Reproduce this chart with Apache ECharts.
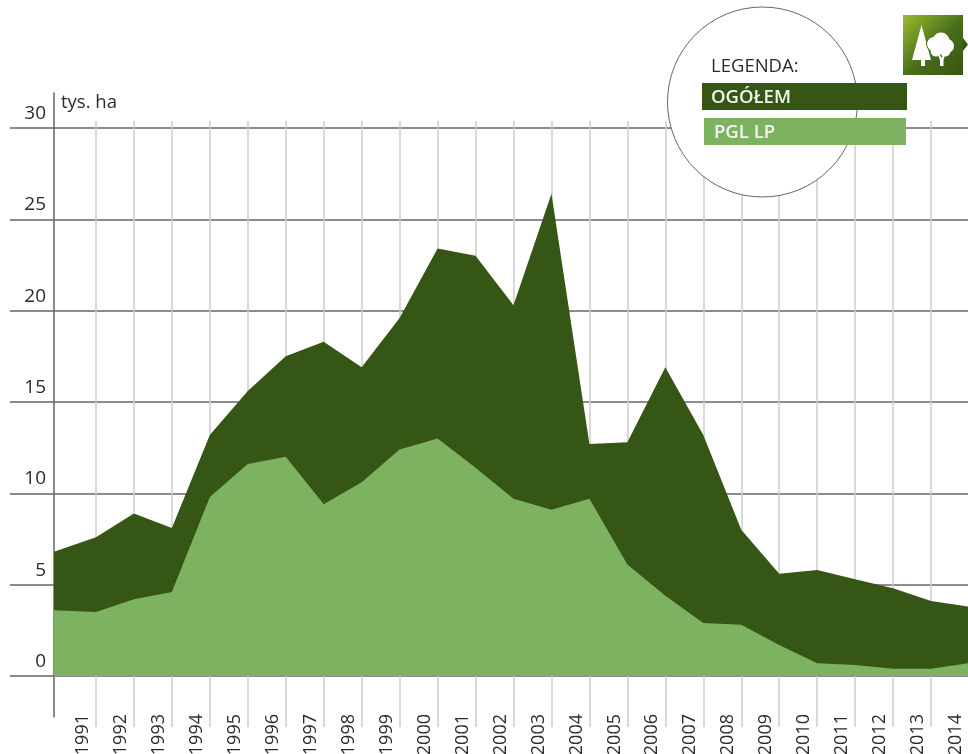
<!DOCTYPE html>
<html><head><meta charset="utf-8">
<style>html,body{margin:0;padding:0;background:#fff;overflow:hidden}#c{width:968px;height:754px}</style>
<script src="https://cdn.jsdelivr.net/npm/echarts@6/dist/echarts.min.js"></script>
</head><body><div id="c"></div>
<script>
const positions = [1989.895,1991,1992,1993,1994,1995,1996,1997,1998,1999,2000,2001,2002,2003,2004,2005,2006,2007,2008,2009,2010,2011,2012,2013,2014];
const ogolem = [6.8,7.6,8.9,8.1,13.2,15.6,17.5,18.3,16.9,19.6,23.4,23.0,20.3,26.4,12.7,12.8,16.9,13.2,8.0,5.6,5.8,5.3,4.8,4.1,3.8];
const pgl = [3.6,3.5,4.2,4.6,9.8,11.6,12.0,9.4,10.6,12.4,13.0,11.4,9.7,9.1,9.7,6.1,4.4,2.9,2.8,1.7,0.7,0.6,0.4,0.4,0.7];
const names = ['OGÓŁEM','PGL LP'];
const font = '"Open Sans"';
const zip = a => a.map((v,i)=>[positions[i],v]);
const chart = echarts.init(document.getElementById('c'),null,{renderer:'canvas'});
chart.setOption({
  animation:false,
  backgroundColor:'#fff',
  grid:[
    {left:54,top:128,width:915,height:548,outerBoundsMode:'none'},
    {left:58,top:121,width:911,height:606,outerBoundsMode:'none'},
    {left:54,top:93,width:915,height:624,outerBoundsMode:'none'}
  ],
  xAxis:[
    {type:'value',gridIndex:0,min:1989.895,max:2014,show:true,axisLine:{show:false},axisTick:{show:false},axisLabel:{show:false},splitLine:{show:false}},
    {type:'value',gridIndex:1,min:1990,max:2014,interval:1,
      axisLine:{show:false},axisTick:{show:false},
      splitLine:{show:true,showMinLine:false,showMaxLine:false,lineStyle:{color:'#cccccc',width:1.5}},
      axisLabel:{rotate:90,margin:-13,color:'#2b2b2b',fontFamily:font,fontSize:18,verticalAlign:'bottom',padding:[0,0,4,0],
        showMinLabel:false,formatter:v=>String(v)}},
    {type:'value',gridIndex:2,min:0,max:1,show:false}
  ],
  yAxis:[
    {type:'value',gridIndex:0,min:0,max:30,interval:5,
      axisLine:{show:false},
      axisTick:{show:true,length:44,lineStyle:{color:'#666',width:1.5}},
      splitLine:{show:true,lineStyle:{color:'#666',width:1.5}},
      axisLabel:{color:'#2b2b2b',fontFamily:font,fontSize:19,margin:8,align:'right',verticalAlign:'bottom',padding:[0,0,5,0]}},
    {type:'value',gridIndex:1,min:0,max:1,show:false},
    {type:'value',gridIndex:2,min:0,max:1,axisLine:{show:true,lineStyle:{color:'#666',width:1.5}},axisTick:{show:false},axisLabel:{show:false},splitLine:{show:false},
      name:'tys. ha',nameLocation:'end',nameGap:-19,
      nameTextStyle:{color:'#2b2b2b',fontFamily:font,fontSize:18.5,align:'left',padding:[0,0,0,7]}}
  ],
  series:[
    {name:names[0],type:'line',xAxisIndex:0,yAxisIndex:0,data:zip(ogolem),symbol:'none',smooth:false,z:3,clip:false,
      lineStyle:{width:0},itemStyle:{color:'#365615'},areaStyle:{color:'#365615',opacity:1}},
    {name:names[1],type:'line',xAxisIndex:0,yAxisIndex:0,data:zip(pgl),symbol:'none',smooth:false,z:4,clip:false,
      lineStyle:{width:0},itemStyle:{color:'#7db261'},areaStyle:{color:'#7db261',opacity:1}}
  ],
  graphic:[
    {type:'circle',z:10,shape:{cx:762.5,cy:102,r:95},style:{fill:'#fff',stroke:'#666',lineWidth:1}},
    {type:'text',z:11,x:711,y:67,style:{text:'LEGENDA:',fill:'#2b2b2b',font:'18.5px '+font,textVerticalAlign:'middle'}},
    {type:'rect',z:11,shape:{x:702,y:83,width:205,height:27},style:{fill:'#365615'}},
    {type:'text',z:12,x:711,y:98,style:{text:names[0],fill:'#f4f4ee',font:'600 18.5px '+font,textVerticalAlign:'middle'}},
    {type:'rect',z:11,shape:{x:704,y:118,width:202,height:27},style:{fill:'#7db261'}},
    {type:'text',z:12,x:714,y:133,style:{text:names[1],fill:'#f4f4ee',font:'600 18.5px '+font,textVerticalAlign:'middle'}},
    {type:'rect',z:11,shape:{x:903,y:15,width:60,height:60},style:{fill:new echarts.graphic.LinearGradient(0,0,1,1,[{offset:0,color:'#9abb2f'},{offset:0.55,color:'#476c1a'},{offset:1,color:'#365615'}])}},
    {type:'polygon',z:11,shape:{points:[[963,38],[968,44.5],[963,51]]},style:{fill:'#365615'}},
    {type:'polygon',z:12,shape:{points:[[921.5,25],[912,60],[921,60],[921,66],[925,66],[925,60],[931,60]]},style:{fill:'#fff'}},
    {type:'circle',z:13,shape:{cx:934,cy:44,r:7.5},style:{fill:'#fff',stroke:'#4a6e1a',lineWidth:1}},
    {type:'circle',z:13,shape:{cx:941,cy:41,r:8.5},style:{fill:'#fff'}},
    {type:'circle',z:13,shape:{cx:947,cy:46,r:7},style:{fill:'#fff'}},
    {type:'circle',z:13,shape:{cx:936,cy:51,r:5.5},style:{fill:'#fff'}},
    {type:'circle',z:13,shape:{cx:945,cy:51,r:5.5},style:{fill:'#fff'}},
    {type:'polygon',z:14,shape:{points:[[938,55],[940,55],[941.5,58],[943,55],[945,55],[943.5,60],[943.5,66],[940,66],[940,60]]},style:{fill:'#fff'}}
  ]
});
</script></body></html>
